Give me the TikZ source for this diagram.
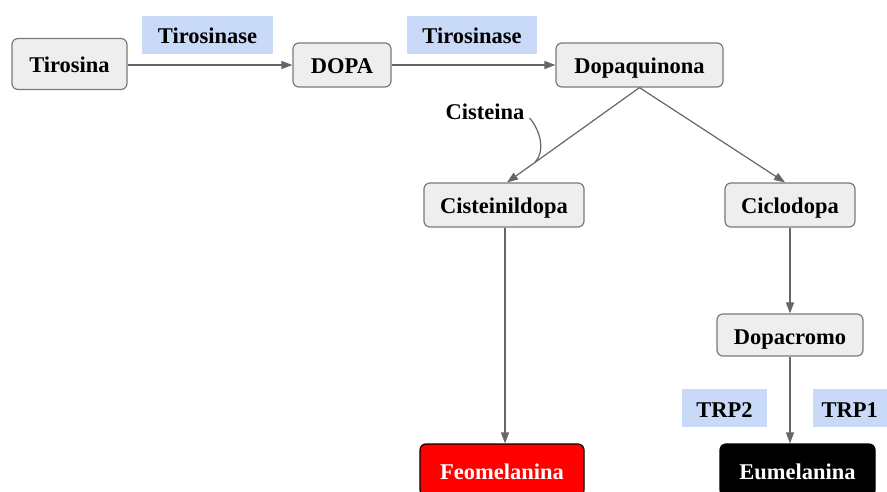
\documentclass[tikz,border=0pt]{standalone}
\usepackage{fontspec}
\setmainfont{Liberation Serif}
\usetikzlibrary{arrows.meta,calc}
\definecolor{boxfill}{HTML}{EEEEEE}
\definecolor{boxline}{HTML}{7A7A7A}
\definecolor{enz}{HTML}{C9DAF8}
\definecolor{arr}{HTML}{666666}
\begin{document}
\begin{tikzpicture}[x=1pt,y=-1pt,
  txt/.style={font=\fontsize{22.5}{26}\selectfont\bfseries,inner sep=0pt,text height=18pt,text depth=0pt},
  box/.style={txt,draw=boxline,fill=boxfill,rounded corners=6pt,line width=1.2pt,minimum height=44pt},
  enzyme/.style={txt,fill=enz,minimum height=38pt},
  conn/.style={draw=arr,line width=1.2pt,-{Triangle[length=11pt,width=8pt]}}]
\useasboundingbox (0,0) rectangle (887,492);
\clip (0,0) rectangle (887,492);
\node[box,minimum width=115pt,minimum height=51pt] (tir) at (69.5,64) {Tirosina};
\node[box,minimum width=98pt] (dopa) at (342,65) {DOPA};
\node[box,minimum width=167pt] (dq) at (639.5,65) {Dopaquinona};
\node[enzyme,minimum width=131pt] (e1) at (207.5,35) {Tirosinase};
\node[enzyme,minimum width=130pt] (e2) at (472,35) {Tirosinase};
\node[box,minimum width=160pt] (cis) at (504,205) {Cisteinildopa};
\node[box,minimum width=130pt] (cic) at (790,205) {Ciclodopa};
\node[box,minimum width=146pt,minimum height=42pt] (dc) at (790,335) {Dopacromo};
\node[enzyme,minimum width=85pt] (t2) at (724.5,408) {TRP2};
\node[enzyme,minimum width=85pt,anchor=west] (t1) at (813,408) {\hspace*{-12pt}TRP1};
\node[box,draw=black,fill=red,text=white,minimum width=164pt,minimum height=52pt] (feo) at (502,470) {Feomelanina};
\node[box,draw=black,fill=black,text=white,minimum width=155pt,minimum height=52pt] (eu) at (797.5,470) {Eumelanina};
\node[txt] (cst) at (485,111) {Cisteina};
\draw[conn] (tir.east |- dopa.west) -- (dopa.west);
\draw[conn] (dopa.east) -- (dq.west);
\draw[conn] (dq.south) -- ($(cis.north)+(3,0)$);
\draw[conn] (dq.south) -- ($(cic.north)+(-5,0)$);
\coordinate (cj) at ($(dq.south)!0.79!($(cis.north)+(3,0)$)$);
\draw[draw=arr,line width=1.2pt] ($(cst.east)+(5,7)$) .. controls +(12,14) and +(10,-10) .. (cj);
\draw[conn] ($(cis.south)+(1,0)$) -- ($(cis.south |- feo.north)+(1,0)$);
\draw[conn] (cic.south) -- (dc.north);
\draw[conn] (dc.south) -- (dc.south |- eu.north);
\end{tikzpicture}
\end{document}
